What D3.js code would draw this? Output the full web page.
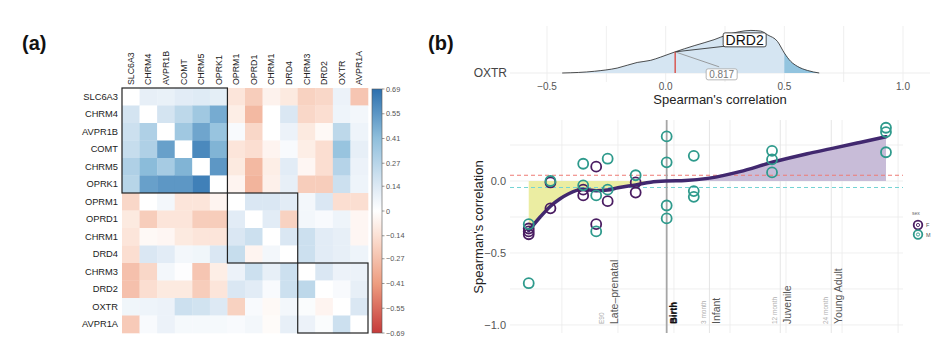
<!DOCTYPE html>
<html><head><meta charset="utf-8">
<script src="https://cdn.jsdelivr.net/npm/d3@7"></script>
<style>
body{margin:0;background:#fff;}
text{font-family:"Liberation Sans",Arial,sans-serif;}
</style></head>
<body>
<script>
// ---------- Panel (a) data ----------
const genes = ["SLC6A3","CHRM4","AVPR1B","COMT","CHRM5","OPRK1","OPRM1","OPRD1","CHRM1","DRD4","CHRM3","DRD2","OXTR","AVPR1A"];
const corrMatrix = [
  [null, 0.10, 0.09, 0.12, 0.13, 0.11, -0.12,-0.22,-0.06,-0.10,-0.20,-0.18, 0.08,-0.25],
  [0.17, null, 0.17, 0.25, 0.35, 0.48, -0.08,-0.30, 0.00, 0.15,-0.18,-0.15, 0.07, 0.05],
  [0.20, 0.30, null, 0.35, 0.50, 0.38,  0.03,-0.18, 0.00, 0.08,-0.10,-0.03, 0.25, 0.07],
  [0.22, 0.30, 0.52, null, 0.60, 0.45, -0.12,-0.15,-0.05, 0.03,-0.08,-0.15, 0.38, 0.10],
  [0.30, 0.42, 0.33, 0.45, null, 0.55, -0.10,-0.30,-0.08, 0.12,-0.04,-0.15, 0.28, 0.08],
  [0.27, 0.52, 0.55, 0.55, 0.63, null, -0.05,-0.32,-0.07, 0.10,-0.22,-0.22, 0.20, 0.07],
  [-0.18,0.00, 0.05,-0.12,-0.12,-0.05,  null, 0.15, 0.15, 0.12, 0.05, 0.15,-0.15,-0.15],
  [-0.10,-0.22,-0.12,-0.12,-0.22,-0.22, 0.12, null, 0.12,-0.20, 0.05, 0.03, 0.07,-0.04],
  [-0.12,-0.03,-0.04,-0.10,-0.12,-0.12, 0.15, 0.20, null, 0.15, 0.20, 0.12, 0.10,-0.04],
  [-0.15,0.15, 0.12, 0.05, 0.06, 0.15,  0.22,-0.05, 0.05, null, 0.20, 0.12, 0.10, 0.07],
  [-0.27,-0.18,0.05, 0.01,-0.25,-0.08,  0.08, 0.20, 0.10, 0.20, null, 0.15, 0.08, 0.08],
  [-0.27,-0.15,-0.10,-0.10,-0.22,-0.12, 0.15, 0.12, 0.03, 0.20, 0.25, null, 0.03, 0.10],
  [0.06, 0.07, 0.08, 0.20, 0.18, 0.14, -0.20, 0.03,-0.03, 0.05, 0.02,-0.05, null, 0.15],
  [-0.23,0.03, 0.08, 0.04, 0.04, 0.04,  0.03, 0.05,-0.02, 0.10, 0.08, 0.02, 0.20, null]
];
const clusterSizes = [6, 4, 4];
const colorbarTicks = [0.69,0.55,0.41,0.27,0.14,0,-0.14,-0.27,-0.41,-0.55,-0.69];

// ---------- Panel (b) top: density ----------
const densX = [-0.436,-0.30,-0.204,-0.12,-0.063,-0.021,0.039,0.12,0.204,0.26,0.31,0.359,0.40,0.43,0.471,0.50,0.527,0.555,0.597,0.647];
const densY = [0,0.08,0.23,0.49,0.59,0.74,0.98,1.27,1.55,1.78,1.92,1.98,1.95,1.77,1.47,0.93,0.54,0.31,0.12,0];
const densTicks = [-0.5,0,0.5,1.0];
const densGrid = [-0.5,-0.25,0,0.25,0.5,0.75,1.0];
const tailStart = 0.5;
const drd2Value = 0.04;
const drd2Label = "DRD2";
const quantileLabel = "0.817";

// ---------- Panel (b) bottom: correlation over development ----------
const pointAge = [40,40,40,50,50,70,70,80,80,90,120,120,
                  40,40,50,70,70,80,80,90,90,120,165,165,165,165,218,218,218,487,487,487,1570,1570,1570];
const pointR   = [-0.33,-0.37,-0.35,-0.01,-0.19,-0.06,-0.10,0.10,-0.30,-0.14,-0.01,-0.08,
                  -0.30,-0.71,0.00,0.12,-0.03,-0.10,-0.35,0.155,-0.06,0.04,0.31,0.13,-0.17,-0.26,0.175,-0.07,-0.11,0.21,0.15,0.06,0.37,0.34,0.20];
const pointSex = ["F","F","F","F","F","F","F","F","F","F","F","F",
                  "M","M","M","M","M","M","M","M","M","M","M","M","M","M","M","M","M","M","M","M","M","M","M"];
const smoothAge = [40,45,50,55,60,70,80,90,100,120,140,165,200,256,350,487,700,895,1200,1570];
const smoothR   = [-0.345,-0.25,-0.175,-0.125,-0.09,-0.058,-0.068,-0.063,-0.047,-0.027,-0.008,0.0,0.003,0.02,0.065,0.13,0.19,0.225,0.268,0.308];
const gridDays = [56.23,100,177.8,316.2,562.3,1000,1778.3];
const yGrid = [-1,-0.75,-0.5,-0.25,0,0.25];
const yTicks = [0,-0.5,-1.0];
const eventDays  = [90,165,256,530,895];
const eventSmall = ["E90","Birth","3 month","12 month","24 month"];
const eventStage = ["Late\u2013prenatal","Birth","Infant","Juvenile","Young Adult"];
const eventHasLine = [false,true,true,true,true];
const femaleThreshold = 0.04;
const maleThreshold = -0.045;
const sexLevels = ["F","M"];
const sexColors = ["#4a1d62","#2e9a8c"];

// ================= drawing =================
const svg = d3.select("body").append("svg").attr("width",950).attr("height",364);

svg.append("text").attr("x",22).attr("y",50).attr("font-size",20).attr("font-weight","bold").attr("fill","#111").text("(a)");
svg.append("text").attr("x",428).attr("y",50).attr("font-size",20).attr("font-weight","bold").attr("fill","#111").text("(b)");

// ---- heatmap ----
const col = d3.scaleLinear()
  .domain([-0.69,-0.41,-0.14,0,0.14,0.41,0.69])
  .range(["#c53a3a","#ee9d80","#fbe1d4","#ffffff","#dde9f4","#8fbfdc","#2b6fae"]);
const hx = d3.scaleBand().domain(genes).range([122,368]);
const hy = d3.scaleBand().domain(genes).range([88,333]);
const cells = [];
corrMatrix.forEach((row,i)=>row.forEach((v,j)=>cells.push({r:genes[i],c:genes[j],v})));
const ga = svg.append("g");
ga.selectAll("rect.cell").data(cells).join("rect").attr("class","cell")
  .attr("x",d=>hx(d.c)).attr("y",d=>hy(d.r))
  .attr("width",hx.bandwidth()+0.3).attr("height",hy.bandwidth()+0.3)
  .attr("fill",d=>d.v===null?"#ffffff":col(d.v));
let start=0;
clusterSizes.forEach(s=>{
  const a=genes[start], b=genes[start+s-1];
  ga.append("rect").attr("x",hx(a)).attr("y",hy(a))
    .attr("width",hx(b)+hx.bandwidth()-hx(a)).attr("height",hy(b)+hy.bandwidth()-hy(a))
    .attr("fill","none").attr("stroke","#222").attr("stroke-width",1.2);
  start+=s;
});
ga.selectAll("text.rl").data(genes).join("text").attr("class","rl")
  .attr("x",118).attr("y",d=>hy(d)+hy.bandwidth()/2).attr("text-anchor","end")
  .attr("dominant-baseline","central").attr("font-size",9.3).attr("fill","#222").text(d=>d);
ga.selectAll("text.cl").data(genes).join("text").attr("class","cl")
  .attr("transform",d=>`translate(${hx(d)+hx.bandwidth()/2},85) rotate(-90)`)
  .attr("dominant-baseline","central").attr("font-size",8.8).attr("fill","#222").text(d=>d);

// colorbar
const cb = d3.scaleLinear().domain([-0.69,0.69]).range([333,89]);
const defs = svg.append("defs");
const grad = defs.append("linearGradient").attr("id","cbg").attr("x1",0).attr("y1",1).attr("x2",0).attr("y2",0);
d3.range(0,1.0001,0.05).forEach(t=>{
  grad.append("stop").attr("offset",t).attr("stop-color",col(-0.69+1.38*t));
});
ga.append("rect").attr("x",372).attr("y",89).attr("width",10).attr("height",244)
  .attr("fill","url(#cbg)").attr("stroke","#555").attr("stroke-width",0.6);
colorbarTicks.forEach(t=>{
  ga.append("line").attr("x1",382).attr("x2",384.5).attr("y1",cb(t)).attr("y2",cb(t)).attr("stroke","#555").attr("stroke-width",0.6);
  ga.append("text").attr("x",386).attr("y",cb(t)).attr("dominant-baseline","central")
    .attr("font-size",7.3).attr("fill","#555").text(t===0?"0":d3.format(".2f")(t).replace("-","\u2212"));
});

// ---- density (b top) ----
const gb = svg.append("g");
const dx = d3.scaleLinear().domain([-0.5,1]).range([547,903]);
const dy = d3.scaleLinear().domain([0,2]).range([73,30]);
densGrid.forEach(v=>gb.append("line").attr("x1",dx(v)).attr("x2",dx(v)).attr("y1",26).attr("y2",82)
  .attr("stroke","#ebebeb").attr("stroke-width",0.8));
gb.append("line").attr("x1",510).attr("x2",930).attr("y1",dy(0)).attr("y2",dy(0)).attr("stroke","#ebebeb").attr("stroke-width",0.9);
const dens = densX.map((x,i)=>({x,y:densY[i]}));
const area = d3.area().x(d=>dx(d.x)).y0(dy(0)).y1(d=>dy(d.y)).curve(d3.curveMonotoneX);
gb.append("path").datum(dens).attr("d",area).attr("fill","#d5e5f2");
gb.append("path").datum(dens.filter(d=>d.x>=tailStart)).attr("d",area).attr("fill","#92c4df");
gb.append("path").datum(dens).attr("d",d3.line().x(d=>dx(d.x)).y(d=>dy(d.y)).curve(d3.curveMonotoneX))
  .attr("fill","none").attr("stroke","#222").attr("stroke-width",0.8);
// red line at DRD2 value
let hAt=0;
for(let i=0;i<densX.length-1;i++){ if(drd2Value>=densX[i]&&drd2Value<=densX[i+1]){const t=(drd2Value-densX[i])/(densX[i+1]-densX[i]);hAt=densY[i]+t*(densY[i+1]-densY[i]);} }
const px=dx(drd2Value), py=dy(hAt);
gb.append("line").attr("x1",px).attr("x2",px).attr("y1",dy(0)).attr("y2",py).attr("stroke","#d9433b").attr("stroke-width",1.3);
gb.append("line").attr("x1",px).attr("y1",py).attr("x2",px+53).attr("y2",py-6).attr("stroke","#222").attr("stroke-width",0.8);
gb.append("line").attr("x1",px).attr("y1",py).attr("x2",px+44).attr("y2",py+15).attr("stroke","#888").attr("stroke-width",0.8);
gb.append("rect").attr("x",px+48).attr("y",py-19).attr("width",43).attr("height",14).attr("rx",2)
  .attr("fill","#fff").attr("stroke","#222").attr("stroke-width",0.8);
gb.append("text").attr("x",px+69.5).attr("y",py-12).attr("text-anchor","middle").attr("dominant-baseline","central")
  .attr("font-size",14).attr("fill","#111").text(drd2Label);
gb.append("rect").attr("x",px+31).attr("y",py+17).attr("width",31).attr("height",11).attr("rx",2)
  .attr("fill","#fff").attr("stroke","#999").attr("stroke-width",0.7);
gb.append("text").attr("x",px+46.5).attr("y",py+22.7).attr("text-anchor","middle").attr("dominant-baseline","central")
  .attr("font-size",10).attr("fill","#777").text(quantileLabel);
densTicks.forEach(v=>gb.append("text").attr("x",dx(v)).attr("y",90.3).attr("text-anchor","middle")
  .attr("font-size",10).attr("fill","#555").text(v===0?"0.0":d3.format(".1f")(v).replace("-","\u2212")));
gb.append("text").attr("x",720).attr("y",104).attr("text-anchor","middle").attr("font-size",13).attr("fill","#222").text("Spearman's correlation");
gb.append("text").attr("x",507).attr("y",dy(0)).attr("text-anchor","end").attr("dominant-baseline","central")
  .attr("font-size",12).attr("fill","#444").text("OXTR");

// ---- development scatter (b bottom) ----
const gc = svg.append("g");
const xs = d3.scaleLog().domain([33,1870]).range([510,903]);
const ys = d3.scaleLinear().domain([-1.056,0.424]).range([333,120]);
yGrid.forEach(v=>gc.append("line").attr("x1",510).attr("x2",903).attr("y1",ys(v)).attr("y2",ys(v))
  .attr("stroke","#ebebeb").attr("stroke-width",0.8));
gridDays.forEach(v=>gc.append("line").attr("x1",xs(v)).attr("x2",xs(v)).attr("y1",120).attr("y2",333)
  .attr("stroke","#ebebeb").attr("stroke-width",0.8));
eventDays.forEach((d,i)=>{
  if(!eventHasLine[i]||i===1) return;
  gc.append("line").attr("x1",xs(d)).attr("x2",xs(d)).attr("y1",120).attr("y2",333).attr("stroke","#e2e2e2").attr("stroke-width",0.9);
});
const sm = smoothAge.map((a,i)=>({a,r:smoothR[i]}));
const neg = sm.filter(d=>d.a<=165), pos = sm.filter(d=>d.a>=165);
const zArea = d3.area().x(d=>xs(d.a)).y0(ys(0)).y1(d=>ys(d.r)).curve(d3.curveMonotoneX);
gc.append("path").datum(neg).attr("d",zArea).attr("fill","#ebeda2");
gc.append("path").datum(pos).attr("d",zArea).attr("fill","#c8bcd8");
gc.append("line").attr("x1",510).attr("x2",903).attr("y1",ys(femaleThreshold)).attr("y2",ys(femaleThreshold))
  .attr("stroke","#ee7b74").attr("stroke-width",1).attr("stroke-dasharray","4,3");
gc.append("line").attr("x1",510).attr("x2",903).attr("y1",ys(maleThreshold)).attr("y2",ys(maleThreshold))
  .attr("stroke","#74d4d4").attr("stroke-width",1).attr("stroke-dasharray","4,3");
gc.append("line").attr("x1",xs(165)).attr("x2",xs(165)).attr("y1",120).attr("y2",333).attr("stroke","#a6a6a6").attr("stroke-width",1.8);
// event labels
eventDays.forEach((d,i)=>{
  const x=xs(d);
  if(i===1){
    [6,7.3].forEach(o=>gc.append("text").attr("transform",`translate(${x+o},324) rotate(-90)`).attr("dominant-baseline","central")
      .attr("font-size",9.5).attr("font-weight","bold").attr("fill","#111").text(eventStage[i]));
    return;
  }
  gc.append("text").attr("transform",`translate(${x-6},324) rotate(-90)`).attr("dominant-baseline","central")
    .attr("font-size",6.5).attr("fill","#b0b0b0").text(eventSmall[i]);
  gc.append("text").attr("transform",`translate(${x+6.5},324) rotate(-90)`).attr("dominant-baseline","central")
    .attr("font-size",10.5).attr("fill","#555").text(eventStage[i]);
});
// smooth line
gc.append("path").datum(sm).attr("d",d3.line().x(d=>xs(d.a)).y(d=>ys(d.r)).curve(d3.curveMonotoneX))
  .attr("fill","none").attr("stroke","#41286f").attr("stroke-width",3.5).attr("stroke-linecap","round");
// points
const sexCol = d3.scaleOrdinal().domain(sexLevels).range(sexColors);
const pts = pointAge.map((a,i)=>({a,r:pointR[i],s:pointSex[i]}));
gc.selectAll("circle.pt").data(pts).join("circle").attr("class","pt")
  .attr("cx",d=>xs(d.a)).attr("cy",d=>ys(d.r)).attr("r",5)
  .attr("fill","none").attr("stroke",d=>sexCol(d.s)).attr("stroke-width",1.8);
// axes text
yTicks.forEach(v=>gc.append("text").attr("x",506).attr("y",ys(v)).attr("text-anchor","end").attr("dominant-baseline","central")
  .attr("font-size",11).attr("fill","#555").text(v===0?"0.0":d3.format(".1f")(v).replace("-","\u2212")));
gc.append("text").attr("transform","translate(478,227) rotate(-90)").attr("text-anchor","middle").attr("dominant-baseline","central")
  .attr("font-size",13).attr("fill","#222").text("Spearman's correlation");
// legend
gc.append("text").attr("x",912).attr("y",215).attr("font-size",5).attr("fill","#666").text("sex");
sexLevels.forEach((s,i)=>{
  const y=225+i*9.5;
  gc.append("circle").attr("cx",918).attr("cy",y).attr("r",4.3).attr("fill","#fff").attr("stroke",sexCol(s)).attr("stroke-width",1.8);
  gc.append("circle").attr("cx",918).attr("cy",y).attr("r",1.6).attr("fill","none").attr("stroke",sexCol(s)).attr("stroke-width",0.9);
  gc.append("text").attr("x",926).attr("y",y).attr("dominant-baseline","central").attr("font-size",5.5).attr("fill","#555").text(s);
});
</script>
</body></html>
